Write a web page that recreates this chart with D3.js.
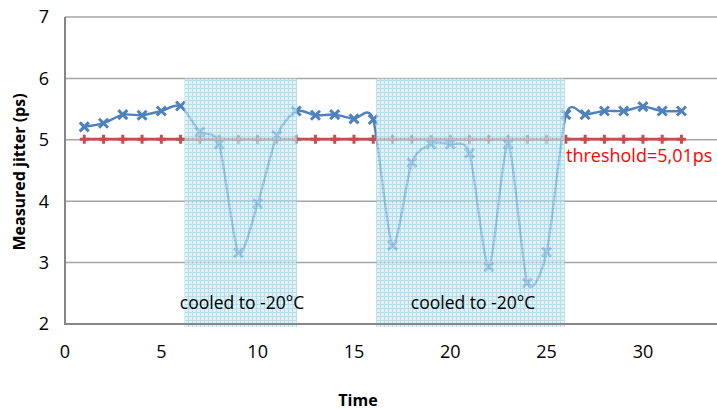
<!DOCTYPE html>
<html>
<head>
<meta charset="utf-8">
<script src="https://cdn.jsdelivr.net/npm/d3@7"></script>
<style>
  html, body { margin: 0; padding: 0; background: #fff; }
  svg { display: block; font-family: "Open Sans", Lato, sans-serif; }
</style>
</head>
<body>
<div id="chart"></div>
<script>
// data
const times = d3.range(1, 33);
const jitter = [5.21, 5.27, 5.41, 5.40, 5.47, 5.55, 5.13, 4.93, 3.16, 3.96,
                5.07, 5.47, 5.40, 5.41, 5.34, 5.33, 3.28, 4.63, 4.93, 4.93,
                4.78, 2.93, 4.93, 2.67, 3.17, 5.41, 5.41, 5.47, 5.47, 5.54,
                5.47, 5.47];
const threshold = times.map(() => 5.01);
const cooledSpans = [[6.2, 12.05], [16.15, 25.95]];
const cooledLabel = "cooled to -20°C";
const xTicks = [0, 5, 10, 15, 20, 25, 30];
const yTicks = [2, 3, 4, 5, 6, 7];

const width = 717, height = 411;
const svg = d3.select("#chart").append("svg").attr("width", width).attr("height", height);

const x = d3.scaleLinear().domain([0, 34]).range([65, 720]);
const y = d3.scaleLinear().domain([2, 7]).range([324, 17]);

// hatch pattern for cooled regions
const defs = svg.append("defs");
const pat = defs.append("pattern").attr("id", "grid").attr("patternUnits", "userSpaceOnUse")
  .attr("width", 4).attr("height", 4);
pat.append("rect").attr("width", 4).attr("height", 4).attr("fill", "#d2ecf4");
pat.append("path").attr("d", "M0,0.5H4M0.5,0V4").attr("stroke", "#98cfe0").attr("stroke-width", 1);

// gridlines
svg.append("g").selectAll("line").data(yTicks.slice(1)).join("line")
  .attr("x1", x(0)).attr("x2", width)
  .attr("y1", d => y(d)).attr("y2", d => y(d))
  .attr("stroke", "#a6a6a6").attr("stroke-width", 1.5);

// lines
const line = d3.line().x((d, i) => x(times[i])).y(d => y(d));
svg.append("path").datum(threshold).attr("d", line)
  .attr("fill", "none").attr("stroke", "#c0504d").attr("stroke-width", 2.8);
svg.append("path").datum(jitter).attr("d", line.curve(d3.curveCardinal.tension(0.25)))
  .attr("fill", "none").attr("stroke", "#4f81bd").attr("stroke-width", 2.4);

// markers
svg.append("g").selectAll("path").data(threshold).join("path")
  .attr("transform", (d, i) => `translate(${x(times[i])},${y(d)})`)
  .attr("d", "M-4.5,0H4.5M0,-4.5V4.5").attr("stroke", "#c0504d").attr("stroke-width", 3);
svg.append("g").selectAll("path").data(jitter).join("path")
  .attr("transform", (d, i) => `translate(${x(times[i])},${y(d)})`)
  .attr("d", "M-4.5,-4.5L4.5,4.5M-4.5,4.5L4.5,-4.5").attr("stroke", "#4f81bd").attr("stroke-width", 3);

// cooled regions drawn over the lines
svg.append("g").selectAll("rect").data(cooledSpans).join("rect")
  .attr("x", d => x(d[0])).attr("width", d => x(d[1]) - x(d[0]))
  .attr("y", y(6)).attr("height", y(2) - y(6) + 3)
  .attr("fill", "url(#grid)").attr("opacity", 0.7);

// axes
svg.append("line").attr("x1", x(0)).attr("x2", width).attr("y1", y(2)).attr("y2", y(2))
  .attr("stroke", "#868686").attr("stroke-width", 2);
svg.append("line").attr("x1", x(0)).attr("x2", x(0)).attr("y1", y(7)).attr("y2", y(2) + 1)
  .attr("stroke", "#868686").attr("stroke-width", 2);

svg.append("g").selectAll("text").data(yTicks).join("text")
  .attr("x", 49).attr("y", d => y(d)).attr("dy", "0.35em")
  .attr("text-anchor", "end").attr("font-size", 18).attr("fill", "#000").text(d => d);
svg.append("g").selectAll("text").data(xTicks).join("text")
  .attr("x", d => x(d)).attr("y", 358)
  .attr("text-anchor", "middle").attr("font-size", 18).attr("fill", "#000").text(d => d);

// labels
svg.selectAll("text.cool").data(cooledSpans).join("text").attr("class", "cool")
  .attr("x", (d, i) => i === 0 ? 242 : 473).attr("y", 309)
  .attr("text-anchor", "middle").attr("font-size", 17.5).attr("fill", "#000").text(cooledLabel);

svg.append("text").attr("x", 566).attr("y", 162).attr("font-size", 18)
  .attr("fill", "#ff0000").text("threshold=5,01ps");

svg.append("text").attr("x", 358).attr("y", 406).attr("text-anchor", "middle")
  .attr("font-size", 16).attr("font-weight", "bold").text("Time");
svg.append("text").attr("transform", "translate(25,172) rotate(-90)").attr("text-anchor", "middle")
  .attr("font-size", 16).attr("font-weight", "bold").text("Measured jitter (ps)");
</script>
</body>
</html>
